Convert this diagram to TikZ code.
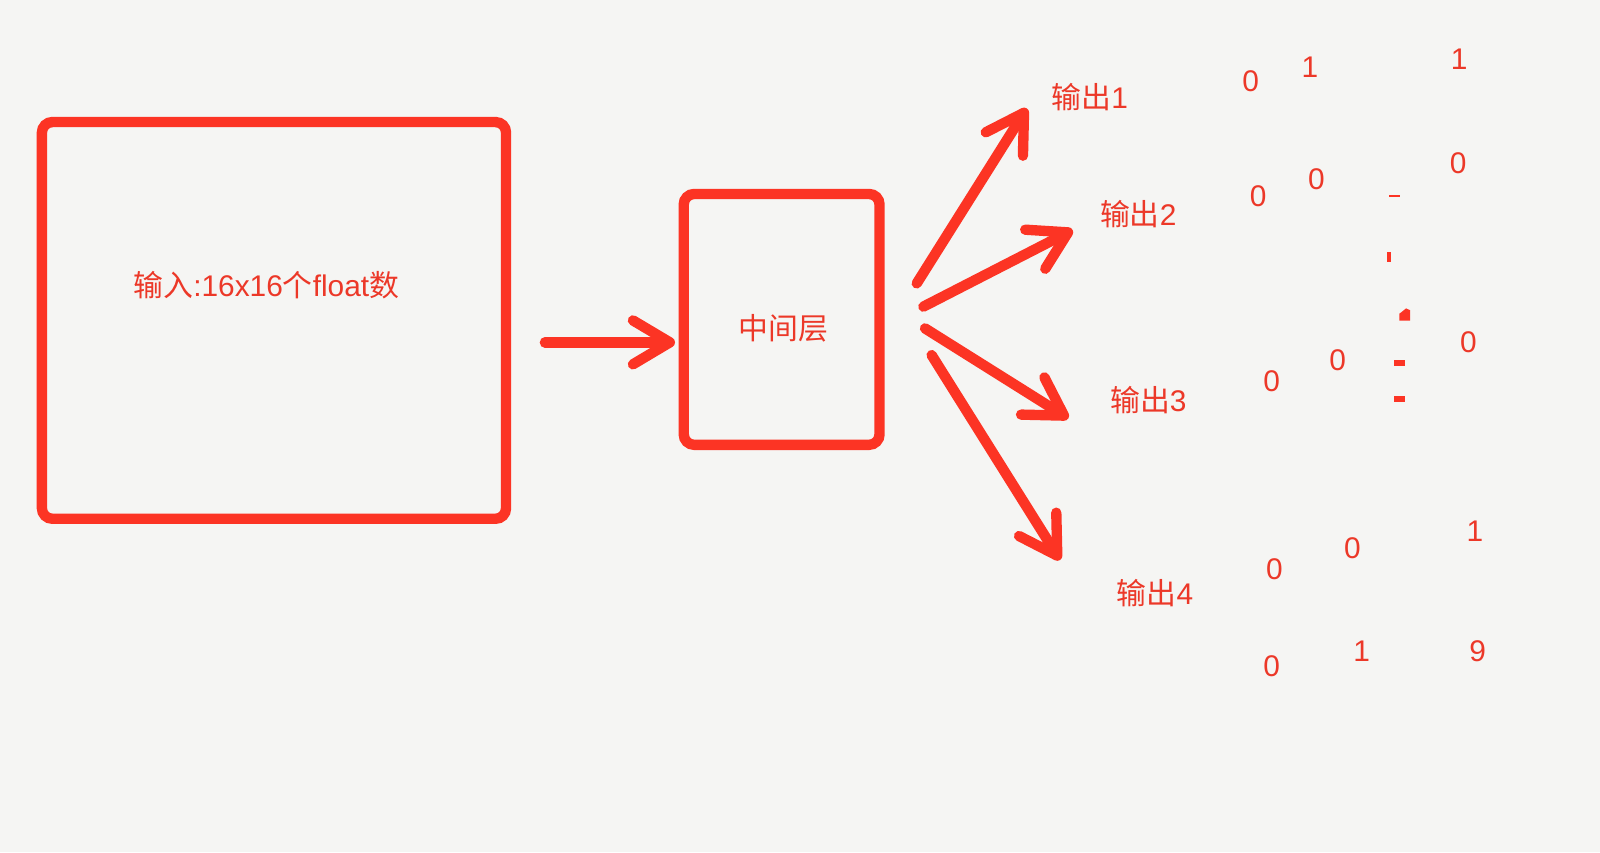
\documentclass[tikz,border=0pt]{standalone}
\usepackage{fontspec}
\setmainfont{Liberation Sans}
\newfontfamily\cjk{Noto Sans CJK SC}
\usepackage{tikz}
\usetikzlibrary{arrows.meta,positioning,calc}
\definecolor{boxred}{RGB}{252,52,36}
\definecolor{txtred}{RGB}{236,56,40}
\definecolor{paper}{RGB}{245,245,243}
\tikzset{
  box/.style={draw=boxred, line width=2.95pt, rounded corners=3pt, inner sep=0pt},
  fat/.style={draw=boxred, line width=2.95pt, line cap=round, -{Straight Barb[length=10.5pt,width=12.5pt,round]}},
  lbl/.style={text=txtred, inner sep=0pt, font=\fontsize{8.5pt}{10pt}\selectfont},
  bit/.style={lbl},
  speck/.style={fill=boxred}
}

\begin{document}
\begin{tikzpicture}[x=0.010204cm, y=-0.010204cm]
    \fill[paper] (0,0) rectangle (1568,835);
    \useasboundingbox (0,0) rectangle (1568,835);

    \node[box, minimum width=4.643cm, minimum height=3.969cm] (input) at (268.5,314) {};
    \node[lbl] (inputtxt) at (261,279) {{\cjk 输入}:16x16{\cjk 个}float{\cjk 数}};
    \node[box, minimum width=1.959cm, minimum height=2.51cm] (mid) at (766,313) {};
    \node[lbl] (midtxt) at (767.5,321.5) {\cjk 中间层};

    \node[lbl] (out1) at (1068,94.7) {{\cjk 输出}1};
    \node[lbl] (out2) at (1115.5,209.5) {{\cjk 输出}2};
    \node[lbl] (out3) at (1125.4,392) {{\cjk 输出}3};
    \node[lbl] (out4) at (1132,581.5) {{\cjk 输出}4};

    % tails and tips of the arrows
    \coordinate (in0) at (534,335.5);
    \coordinate (s1) at (898.4,277.7);
    \coordinate (s2) at (904.9,300.5);
    \coordinate (s3) at (906.5,321.8);
    \coordinate (s4) at (913,348);
    \coordinate (e1) at (1006.2,106.2);
    \coordinate (e2) at (1051.2,225.4);
    \coordinate (e3) at (1047,410);
    \coordinate (e4) at (1038.8,548.8);

    \draw[fat, shorten >=1pt] (in0) -- (mid.west |- in0);
    \path
    (s1) edge[fat] (e1)
    (s2) edge[fat] (e2)
    (s3) edge[fat] (e3)
    (s4) edge[fat] (e4);

    \node[bit] (b11) at (1225.7,80) {0};
    \node[bit] (b12) at (1283.8,66) {1};
    \node[bit] (b13) at (1430,58) {1};
    \node[bit] (b21) at (1233,191.8) {0};
    \node[bit] (b22) at (1290,175.4) {0};
    \node[bit] (b23) at (1429,160) {0};
    \node[bit] (b31) at (1246.2,374) {0};
    \node[bit] (b32) at (1311,352.8) {0};
    \node[bit] (b33) at (1439,335.5) {0};
    \node[bit] (b41) at (1248.8,557.6) {0};
    \node[bit] (b42) at (1325.3,537.4) {0};
    \node[bit] (b43) at (1445.5,521) {1};
    \node[bit] (b51) at (1246.2,652.4) {0};
    \node[bit] (b52) at (1334.5,638) {1};
    \node[bit] (b53) at (1448,638) {9};

    % specks in the middle column
    \fill[speck] (1361.5,191) rectangle (1372,192.8);
    \fill[speck] (1359.6,246.6) rectangle (1362.9,256.4);
    \fill[speck] (1371.3,314.3) -- (1381.8,314.3) -- (1381.8,304) -- (1378,302.2) -- (1371.3,307.5) -- cycle;
    \fill[speck] (1366.5,352.8) rectangle (1377.2,358.7);
    \fill[speck] (1366.5,387.8) rectangle (1377.2,394);
\end{tikzpicture}
\end{document}
